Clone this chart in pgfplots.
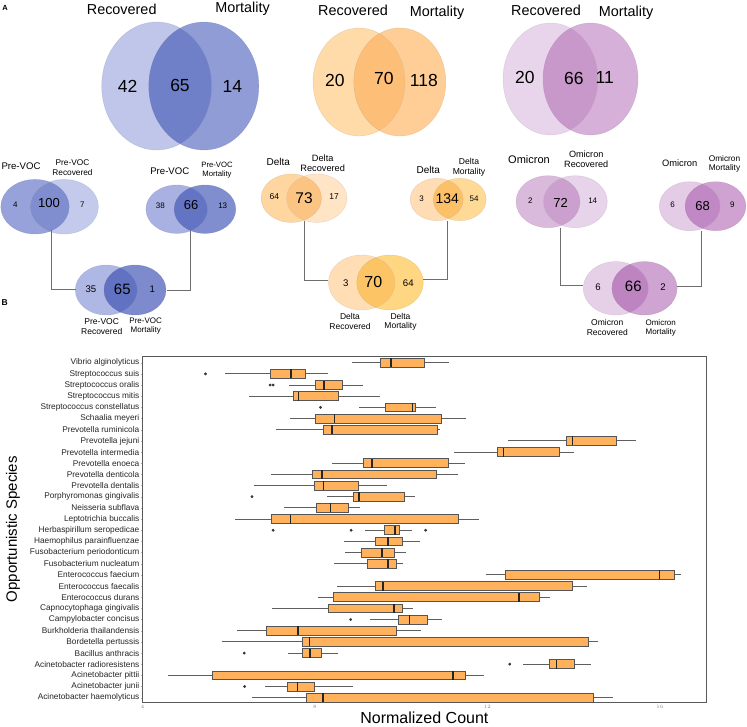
\documentclass[border=0pt]{standalone}
\usepackage{fontspec}
\setmainfont{Liberation Sans}
\usepackage{pgfplots}
\pgfplotsset{compat=1.18}
\usepgfplotslibrary{statistics}

\definecolor{boxfill}{RGB}{255,177,92}
\definecolor{boxedge}{RGB}{85,85,85}
\definecolor{whisk}{RGB}{95,95,95}
\definecolor{conn}{RGB}{110,110,110}
% panel A
\definecolor{bL}{RGB}{191,198,234}\definecolor{bR}{RGB}{144,156,214}\definecolor{bI}{RGB}{112,128,200}
\definecolor{oL}{RGB}{255,219,170}\definecolor{oR}{RGB}{255,206,150}\definecolor{oI}{RGB}{253,190,120}
\definecolor{pL}{RGB}{233,213,235}\definecolor{pR}{RGB}{214,176,216}\definecolor{pI}{RGB}{200,152,202}
% panel B
\definecolor{b1L}{RGB}{150,162,217}\definecolor{b1R}{RGB}{196,202,236}\definecolor{b1I}{RGB}{128,142,208}
\definecolor{b2L}{RGB}{168,177,225}\definecolor{b2R}{RGB}{128,142,208}\definecolor{b2I}{RGB}{100,116,196}
\definecolor{b3L}{RGB}{175,183,228}\definecolor{b3R}{RGB}{125,139,206}\definecolor{b3I}{RGB}{98,114,194}
\definecolor{d1L}{RGB}{255,214,160}\definecolor{d1R}{RGB}{255,228,198}\definecolor{d1I}{RGB}{252,196,130}
\definecolor{d2L}{RGB}{255,220,180}\definecolor{d2R}{RGB}{255,218,150}\definecolor{d2I}{RGB}{252,192,105}
\definecolor{d3L}{RGB}{255,222,182}\definecolor{d3R}{RGB}{255,214,130}\definecolor{d3I}{RGB}{252,196,100}
\definecolor{m1L}{RGB}{218,186,220}\definecolor{m1R}{RGB}{232,212,234}\definecolor{m1I}{RGB}{204,160,206}
\definecolor{m2L}{RGB}{228,204,230}\definecolor{m2R}{RGB}{208,162,210}\definecolor{m2I}{RGB}{192,136,196}
\definecolor{m3L}{RGB}{230,208,232}\definecolor{m3R}{RGB}{208,164,210}\definecolor{m3I}{RGB}{190,132,194}

% #1 cx left, #2 cx right, #3 cy, #4 rx, #5 ry, #6 left colour, #7 right colour, #8 intersection colour
\newcommand{\venn}[8]{%
  \fill[#6] (#1,#3) ellipse [x radius=#4pt, y radius=#5pt];
  \fill[#7] (#2,#3) ellipse [x radius=#4pt, y radius=#5pt];
  \begin{scope}
    \clip (#1,#3) ellipse [x radius=#4pt, y radius=#5pt];
    \fill[#8] (#2,#3) ellipse [x radius=#4pt, y radius=#5pt];
  \end{scope}
  \draw[#6!80!black, line width=0.4pt, opacity=0.45] (#1,#3) ellipse [x radius=#4pt, y radius=#5pt];
  \draw[#7!80!black, line width=0.4pt, opacity=0.45] (#2,#3) ellipse [x radius=#4pt, y radius=#5pt];
}
\newcommand{\fs}[1]{\fontsize{#1}{#1}\selectfont}
\newcommand{\bx}[6]{\addplot[boxplot prepared={draw position=#1, lower whisker=#2, lower quartile=#3, median=#4, upper quartile=#5, upper whisker=#6}] coordinates {};}

\begin{document}
\begin{tikzpicture}
\begin{scope}[x=1pt,y=-1pt]
\useasboundingbox (0,0) rectangle (747,725);
\fill[white] (0,0) rectangle (747,725);

% ---------------- Panel A ----------------
\node[font=\bfseries\fs{7.5}, inner sep=0] at (5,8) {A};
\venn{156.7}{203.8}{86}{55}{64}{bL}{bR}{bI}
\venn{359}{399.8}{82}{46}{54}{oL}{oR}{oI}
\venn{550.5}{590.5}{79}{47.5}{56}{pL}{pR}{pI}
\begin{scope}[every node/.style={inner sep=0}]
\node[font=\fs{14.4}] at (121.7,9) {Recovered};
\node[font=\fs{14.4}] at (242.6,9) {Mortality};
\node[font=\fs{14.4}] at (353,10.5) {Recovered};
\node[font=\fs{14.4}] at (437,12.9) {Mortality};
\node[font=\fs{14.4}] at (546,10) {Recovered};
\node[font=\fs{14.4}] at (626,13) {Mortality};
\node[font=\fs{17.5}] at (127.6,86.7) {42};
\node[font=\fs{17.5}] at (180,85.7) {65};
\node[font=\fs{17.5}] at (232.4,86.7) {14};
\node[font=\fs{17.5}] at (334.8,80) {20};
\node[font=\fs{17.5}] at (383.8,78.6) {70};
\node[font=\fs{17.5}] at (423.8,80) {118};
\node[font=\fs{17.5}] at (524.8,77) {20};
\node[font=\fs{17.5}] at (573.8,78.6) {66};
\node[font=\fs{17.5}] at (604.8,77) {11};
\end{scope}

% ---------------- Panel B Venns ----------------
\node[font=\bfseries\fs{8.5}, inner sep=0] at (4.7,302.7) {B};
% Pre-VOC
\venn{35}{64.2}{206.7}{34.2}{27.3}{b1L}{b1R}{b1I}
\venn{176.7}{205}{209.2}{30.8}{24.2}{b2L}{b2R}{b2I}
\venn{106.3}{135}{290}{31}{25}{b3L}{b3R}{b3I}
% Delta
\venn{291.3}{316.7}{198.2}{30.2}{24.2}{d1L}{d1R}{d1I}
\venn{436.7}{459.7}{199.5}{26.5}{21.2}{d2L}{d2R}{d2I}
\venn{361.7}{390}{282.5}{33.3}{27.5}{d3L}{d3R}{d3I}
% Omicron
\venn{548}{575.3}{201.7}{32}{26}{m1L}{m1R}{m1I}
\venn{689.7}{715.5}{206.2}{30.4}{24.5}{m2L}{m2R}{m2I}
\venn{615.8}{644.5}{288.3}{32.6}{26.7}{m3L}{m3R}{m3I}
% connectors
\draw[conn, line width=0.8pt] (51,229.5) -- (51,289.5) -- (76,289.5);
\draw[conn, line width=0.8pt] (190.3,230.5) -- (190.3,290) -- (166.7,290);
\draw[conn, line width=0.8pt] (304.7,221) -- (304.7,280.7) -- (328.3,280.7);
\draw[conn, line width=0.8pt] (447.3,220.5) -- (447.3,279.3) -- (423.3,279.3);
\draw[conn, line width=0.8pt] (560,227.5) -- (560,285.3) -- (583.3,285.3);
\draw[conn, line width=0.8pt] (701.7,230.5) -- (701.7,286.7) -- (677.3,286.7);

\begin{scope}[every node/.style={inner sep=0, align=center}]
% Pre-VOC
\node[font=\fs{9.6}] at (21,166) {Pre-VOC};
\node[font=\fontsize{8.3}{10}\selectfont] at (72.5,167.3) {Pre-VOC\\Recovered};
\node[font=\fs{9.6}] at (169.8,171) {Pre-VOC};
\node[font=\fontsize{7.7}{9.3}\selectfont] at (217,170.3) {Pre-VOC\\Mortality};
\node[font=\fs{8}] at (15.3,205) {4};
\node[font=\fs{13}] at (49,203.3) {100};
\node[font=\fs{8}] at (82.3,205) {7};
\node[font=\fs{8}] at (160.3,206) {38};
\node[font=\fs{13}] at (191,204.7) {66};
\node[font=\fs{8}] at (222.7,206) {13};
\node[font=\fs{9.6}] at (91,289.3) {35};
\node[font=\fs{15}] at (122.3,289.3) {65};
\node[font=\fs{9.6}] at (152.3,289.3) {1};
\node[font=\fontsize{8.5}{10}\selectfont] at (101.7,327) {Pre-VOC\\Recovered};
\node[font=\fontsize{8}{9.3}\selectfont] at (145.7,326.2) {Pre-VOC\\Mortality};
% Delta
\node[font=\fs{10}] at (278.3,162.3) {Delta};
\node[font=\fontsize{9.2}{10.3}\selectfont] at (322.7,163.2) {Delta\\Recovered};
\node[font=\fs{8.5}] at (274.3,196.7) {64};
\node[font=\fs{15.5}] at (304,197.7) {73};
\node[font=\fs{8.5}] at (334,196.7) {17};
\node[font=\fs{10}] at (428.3,170) {Delta};
\node[font=\fontsize{8.6}{9.7}\selectfont] at (469,167.5) {Delta\\Mortality};
\node[font=\fs{8}] at (421.7,198.3) {3};
\node[font=\fs{14}] at (447.3,199) {134};
\node[font=\fs{8}] at (474,198.3) {54};
\node[font=\fs{9.6}] at (345.7,282.7) {3};
\node[font=\fs{16}] at (373.3,281.7) {70};
\node[font=\fs{9.6}] at (408.3,282.7) {64};
\node[font=\fontsize{8.5}{9.5}\selectfont] at (350,321.5) {Delta\\Recovered};
\node[font=\fontsize{8.5}{9.5}\selectfont] at (400.5,322) {Delta\\Mortality};
% Omicron
\node[font=\fs{11}] at (529,159.3) {Omicron};
\node[font=\fontsize{9.1}{10}\selectfont] at (586.2,159.3) {Omicron\\Recovered};
\node[font=\fs{8}] at (530.3,200.7) {2};
\node[font=\fs{13}] at (560.7,202.7) {72};
\node[font=\fs{8}] at (592.7,200.7) {14};
\node[font=\fs{9.3}] at (679.7,163.3) {Omicron};
\node[font=\fontsize{8.3}{9.4}\selectfont] at (724.5,164) {Omicron\\Mortality};
\node[font=\fs{8}] at (672.7,205) {6};
\node[font=\fs{13}] at (702.7,206) {68};
\node[font=\fs{8}] at (732.3,205) {9};
\node[font=\fs{9.6}] at (598,286.7) {6};
\node[font=\fs{15}] at (633.3,286.7) {66};
\node[font=\fs{9.6}] at (663,286.7) {2};
\node[font=\fontsize{8.5}{10}\selectfont] at (607.3,327.7) {Omicron\\Recovered};
\node[font=\fontsize{8}{9.4}\selectfont] at (660.7,328) {Omicron\\Mortality};
\end{scope}
\end{scope}

% ---------------- Box plot ----------------
\begin{axis}[
  at={(142.5pt,-702.3pt)}, anchor=south west,
  scale only axis, width=563.8pt, height=346.3pt,
  xmin=4, xmax=17.08, ymin=0.59, ymax=31.6,
  xtick={4,8,12,16}, xtick pos=bottom, ytick pos=left,
  ytick={1,...,31},
  yticklabels={Acinetobacter haemolyticus, Acinetobacter junii, Acinetobacter pittii, Acinetobacter radioresistens, Bacillus anthracis, Bordetella pertussis, Burkholderia thailandensis, Campylobacter concisus, Capnocytophaga gingivalis, Enterococcus durans, Enterococcus faecalis, Enterococcus faecium, Fusobacterium nucleatum, Fusobacterium periodonticum, Haemophilus parainfluenzae, Herbaspirillum seropedicae, Leptotrichia buccalis, Neisseria subflava, Porphyromonas gingivalis, Prevotella dentalis, Prevotella denticola, Prevotella enoeca, Prevotella intermedia, Prevotella jejuni, Prevotella ruminicola, Schaalia meyeri, Streptococcus constellatus, Streptococcus mitis, Streptococcus oralis, Streptococcus suis, Vibrio alginolyticus},
  tick align=outside,
  major tick length=2pt,
  ytick style={gray!60},
  xtick style={draw=none},
  yticklabel style={font=\fs{8.3}, text=black!85, inner sep=1pt},
  xticklabel style={font=\fs{5}, text=gray, inner sep=1pt},
  axis line style={draw=black!65, line width=0.8pt},
  xlabel={Normalized Count},
  ylabel={Opportunistic Species},
  xlabel style={font=\fs{16}, at={(axis description cs:0.5,-0.0433)}, anchor=center},
  ylabel style={font=\fs{15}, at={(axis description cs:-0.2297,0.5)}, anchor=center},
  boxplot/draw direction=x,
  boxplot/box extend=0.8,
  boxplot/whisker extend=0,
  boxplot/every box/.style={fill=boxfill, draw=boxedge, line width=0.8pt},
  boxplot/every whisker/.style={draw=whisk, line width=0.8pt},
  boxplot/every median/.style={draw=black!85, line width=1.5pt},
]
\bx{31}{8.87}{9.53}{9.76}{10.55}{11.10}
\bx{30}{5.92}{6.96}{7.44}{7.79}{8.30}
\bx{29}{7.39}{8.00}{8.21}{8.64}{9.11}
\bx{28}{6.48}{7.51}{7.62}{8.55}{9.51}
\bx{27}{9.03}{9.64}{10.26}{10.33}{10.80}
\bx{26}{7.43}{8.00}{8.46}{10.93}{11.51}
\bx{25}{7.10}{8.20}{8.40}{10.83}{10.91}
\bx{24}{12.48}{13.83}{13.97}{14.99}{15.44}
\bx{23}{11.23}{12.24}{12.38}{13.68}{14.00}
\bx{22}{8.39}{9.13}{9.32}{11.10}{11.49}
\bx{21}{6.98}{7.93}{8.16}{10.82}{11.31}
\bx{20}{6.59}{7.99}{8.20}{9.02}{9.68}
\bx{19}{8.28}{8.89}{9.02}{10.08}{10.32}
\bx{18}{7.28}{8.03}{8.36}{8.78}{9.05}
\bx{17}{6.15}{6.98}{7.43}{11.33}{11.80}
\bx{16}{9.17}{9.61}{9.86}{9.96}{10.25}
\bx{15}{8.67}{9.40}{9.70}{10.02}{10.43}
\bx{14}{8.70}{9.07}{9.56}{9.84}{10.11}
\bx{13}{8.45}{9.21}{9.70}{9.89}{10.05}
\bx{12}{11.98}{12.43}{15.99}{16.35}{16.49}
\bx{11}{8.51}{9.40}{9.58}{13.97}{14.32}
\bx{10}{8.08}{8.43}{12.73}{13.21}{13.45}
\bx{9}{7.00}{8.31}{9.84}{10.03}{10.28}
\bx{8}{9.27}{9.94}{10.19}{10.62}{10.95}
\bx{7}{6.19}{6.87}{7.61}{9.90}{10.45}
\bx{6}{5.84}{7.72}{7.87}{14.34}{14.56}
\bx{5}{7.38}{7.71}{7.89}{8.16}{8.53}
\bx{4}{12.82}{13.45}{13.60}{14.03}{14.40}
\bx{3}{4.60}{5.62}{11.20}{11.49}{11.92}
\bx{2}{6.85}{7.35}{7.60}{7.99}{8.88}
\bx{1}{6.55}{7.81}{8.19}{14.45}{14.91}
\addplot[only marks, mark=*, mark size=1.2pt, draw=black!80, fill=black!80] coordinates {
  (5.46,30) (6.96,29) (7.03,29) (8.13,27) (6.54,19)
  (7.03,16) (8.84,16) (10.57,16) (8.83,8) (6.36,5)
  (12.52,4) (6.37,2)
};
\end{axis}
\end{tikzpicture}
\end{document}
